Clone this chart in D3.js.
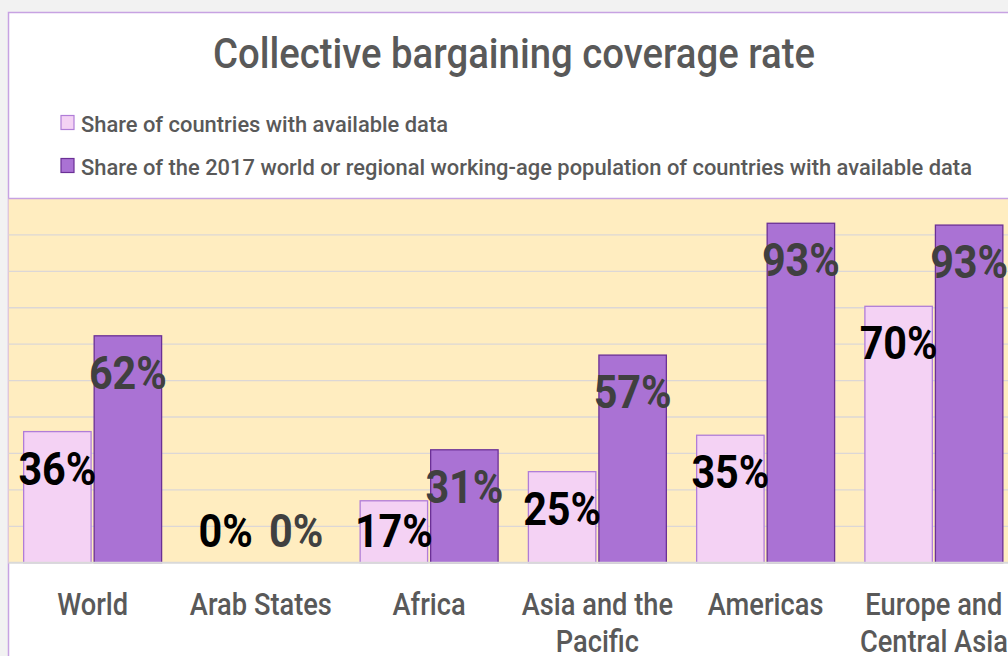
<!DOCTYPE html>
<html><head><meta charset="utf-8">
<script src="https://cdn.jsdelivr.net/npm/d3@7"></script>
<style>
html,body{margin:0;padding:0;background:#f2f2f2;overflow:hidden}
svg{display:block}
text{font-family:Roboto,"Noto Sans",sans-serif}
</style></head>
<body>
<svg id="c" width="1008" height="656"></svg>
<script>
const categories = ["World","Arab States","Africa","Asia and the Pacific","Americas","Europe and Central Asia"];
const seriesNames = ["Share of countries with available data","Share of the 2017 world or regional working-age population of countries with available data"];
const shareCountries = [0.36, 0, 0.17, 0.25, 0.35, 0.704];
const sharePopulation = [0.623, 0, 0.31, 0.57, 0.932, 0.927];
const yTicks = [0,0.1,0.2,0.3,0.4,0.5,0.6,0.7,0.8,0.9,1];
const chartTitle = "Collective bargaining coverage rate";

const svg = d3.select("#c");
const W = 1008, H = 656;
const plot = {left: 8.5, right: 1018, top: 198.5, bottom: 562.7};
const textWeight = 500;

// horizontal compression helper (emulates the condensed face of the original)
function squeeze(sel, k){
  sel.each(function(){
    const w = this.getComputedTextLength();
    d3.select(this).attr("textLength", w*k).attr("lengthAdjust","spacingAndGlyphs");
  });
}
function measure(str, size, weight){
  const t = svg.append("text").attr("font-size",size).attr("font-weight",weight||textWeight).text(str);
  const w = t.node().getComputedTextLength(); t.remove(); return w;
}

// chart area
svg.append("rect").attr("x",8.5).attr("y",12.5).attr("width",W+20).attr("height",H+20)
  .attr("fill","#ffffff").attr("stroke","#c7a2e2").attr("stroke-width",1.5);

const y = d3.scaleLinear().domain([0,1]).range([plot.bottom, plot.top]);
const x0 = d3.scaleBand().domain(categories).range([plot.left, plot.right]).paddingInner(0.18).paddingOuter(0.09);
const x1 = d3.scaleBand().domain([0,1]).range([0, x0.bandwidth()]).paddingInner(0.0435);

// plot background
svg.append("rect").attr("x",plot.left).attr("y",plot.top).attr("width",plot.right-plot.left).attr("height",plot.bottom-plot.top)
  .attr("fill","#ffedc0");
// gridlines
svg.append("g").selectAll("line").data(yTicks.filter(t=>t>0 && t<1)).join("line")
  .attr("x1",plot.left).attr("x2",plot.right).attr("y1",d=>y(d)).attr("y2",d=>y(d))
  .attr("stroke","#dcd7d6").attr("stroke-width",1.3);
svg.append("line").attr("x1",plot.left).attr("x2",W+10).attr("y1",plot.top).attr("y2",plot.top)
  .attr("stroke","#c7a2e2").attr("stroke-width",1.5);

const fills = ["#f4d2f4","#aa72d4"];
const strokes = ["#b07dd8","#6b3096"];
const labelColors = ["#000000","#404040"];
const data = categories.map((c,i)=>({c, vals:[shareCountries[i], sharePopulation[i]]}));

const groups = svg.append("g").selectAll("g").data(data).join("g")
  .attr("transform",d=>`translate(${x0(d.c)},0)`);
groups.selectAll("rect").data(d=>d.vals.map((v,k)=>({v,k}))).join("rect")
  .attr("x",d=>x1(d.k)).attr("width",x1.bandwidth())
  .attr("y",d=>y(d.v)).attr("height",d=>y(0)-y(d.v))
  .attr("fill",d=>fills[d.k]).attr("stroke",d=>d.v>0?strokes[d.k]:"none").attr("stroke-width",1.3);

svg.append("line").attr("x1",plot.left).attr("x2",plot.right).attr("y1",y(0)).attr("y2",y(0))
  .attr("stroke","#d9d9d9").attr("stroke-width",2);

// value labels
const vk = 78 / measure("36%", 47, "bold");
const vl = groups.selectAll("text.v").data(d=>d.vals.map((v,k)=>({v,k}))).join("text").attr("class","v")
  .attr("x",d=>x1(d.k)+x1.bandwidth()/2)
  .attr("y",d=>Math.min(y(d.v)+19, 513)+34)
  .attr("text-anchor","middle").attr("font-weight","bold").attr("font-size",47)
  .attr("fill",d=>labelColors[d.k])
  .text(d=>d3.format(".0%")(d.v));
squeeze(vl, vk);

// category labels
const ck = 71 / measure("World", 32);
categories.forEach(d=>{
  const words = d.split(" ");
  let line = [], lines = [];
  words.forEach(w=>{
    const test = line.concat([w]).join(" ");
    if (measure(test, 32)*ck > 160 && line.length){ lines.push(line.join(" ")); line=[w]; }
    else line.push(w);
  });
  lines.push(line.join(" "));
  lines.forEach((l,i)=>{
    const t = svg.append("text").attr("text-anchor","middle").attr("font-size",32).attr("font-weight",textWeight)
      .attr("fill","#595959").attr("x",x0(d)+x0.bandwidth()/2).attr("y",615+i*37).text(l);
    squeeze(t, ck);
  });
});

// title
svg.append("text").attr("x",514).attr("y",68).attr("text-anchor","middle")
  .attr("font-size",42).attr("font-weight",textWeight).attr("fill","#595959").text(chartTitle)
  .attr("textLength",602).attr("lengthAdjust","spacingAndGlyphs");

// legend
const lk = 367 / measure(seriesNames[0], 22);
const leg = svg.append("g").selectAll("g").data(seriesNames).join("g")
  .attr("transform",(d,i)=>`translate(61,${i?158.5:115.5})`);
leg.append("rect").attr("width",13).attr("height",14)
  .attr("fill",(d,i)=>fills[i]).attr("stroke",(d,i)=>strokes[i]).attr("stroke-width",1.2);
const lt = leg.append("text").attr("x",20).attr("y",16).attr("font-size",22).attr("font-weight",textWeight)
  .attr("fill","#595959").text(d=>d);
squeeze(lt, lk);
</script>
</body></html>
